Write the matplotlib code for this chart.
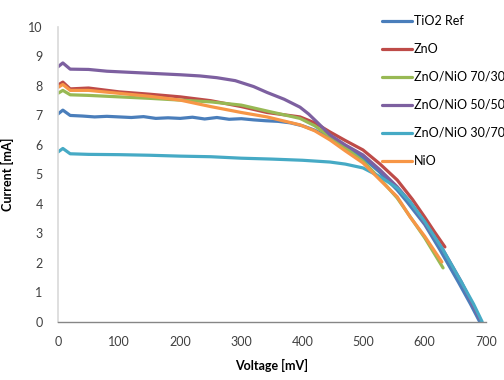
import matplotlib.pyplot as plt

# I-V curves (Voltage in mV, Current in mA)
v_tio2 = [0, 8, 20, 40, 60, 80, 100, 120, 140, 160, 180, 200, 220, 240, 260, 280, 300, 320,
          340, 360, 380, 400, 420, 445, 470, 499, 525, 555, 571, 600, 625, 655, 675, 690]
i_tio2 = [7.05, 7.18, 7.0, 6.98, 6.95, 6.97, 6.95, 6.93, 6.96, 6.9, 6.92, 6.9, 6.94, 6.88, 6.93, 6.87,
          6.89, 6.85, 6.82, 6.8, 6.75, 6.65, 6.5, 6.24, 5.95, 5.56, 5.1, 4.47, 4.07, 3.3, 2.44, 1.35, 0.6, 0.0]

v_zno = [0, 8, 20, 50, 100, 150, 200, 250, 300, 342, 396, 420, 445, 470, 499, 527, 555, 580, 600, 615, 633]
i_zno = [8.03, 8.13, 7.9, 7.93, 7.8, 7.72, 7.63, 7.5, 7.3, 7.1, 6.95, 6.75, 6.44, 6.15, 5.83, 5.35, 4.81, 4.15, 3.55, 3.08, 2.54]

v_7030 = [0, 8, 20, 50, 100, 150, 200, 250, 300, 342, 396, 420, 445, 470, 499, 527, 555, 600, 630]
i_7030 = [7.75, 7.85, 7.7, 7.68, 7.63, 7.58, 7.52, 7.46, 7.35, 7.15, 6.9, 6.65, 6.28, 5.9, 5.45, 4.85, 4.2, 2.85, 1.83]

v_5050 = [0, 8, 20, 50, 80, 100, 130, 150, 200, 232, 260, 290, 320, 342, 370, 396, 410, 425, 445, 470,
          499, 527, 555, 576, 630, 660, 690]
i_5050 = [8.65, 8.78, 8.57, 8.56, 8.5, 8.48, 8.45, 8.43, 8.38, 8.34, 8.28, 8.18, 7.98, 7.78, 7.55, 7.28, 7.05,
          6.75, 6.34, 6.0, 5.66, 5.15, 4.58, 4.07, 2.44, 1.35, 0.1]

v_3070 = [0, 8, 20, 50, 100, 150, 200, 250, 300, 350, 400, 445, 470, 499, 527, 555, 576, 600, 630, 660, 680, 694]
i_3070 = [5.76, 5.88, 5.7, 5.68, 5.67, 5.65, 5.62, 5.6, 5.55, 5.52, 5.48, 5.42, 5.35, 5.22, 4.92, 4.54,
          4.07, 3.4, 2.44, 1.35, 0.6, 0.0]

v_nio = [0, 8, 20, 50, 100, 150, 200, 250, 300, 342, 396, 420, 445, 470, 499, 527, 555, 576, 600, 628]
i_nio = [7.95, 8.05, 7.85, 7.85, 7.75, 7.65, 7.52, 7.3, 7.1, 6.95, 6.68, 6.48, 6.17, 5.8, 5.39, 4.81, 4.24, 3.56, 2.9, 2.03]

series = [
    ("TiO2 Ref", v_tio2, i_tio2, "#4a7ebb"),
    ("ZnO", v_zno, i_zno, "#be4b48"),
    ("ZnO/NiO 70/30", v_7030, i_7030, "#98b954"),
    ("ZnO/NiO 50/50", v_5050, i_5050, "#7d60a0"),
    ("ZnO/NiO 30/70", v_3070, i_3070, "#46aac5"),
    ("NiO", v_nio, i_nio, "#f79646"),
]

plt.rcParams['font.family'] = ['Lato', 'DejaVu Sans']

fig = plt.figure(figsize=(5.04, 3.80), dpi=100)
ax = fig.add_axes([0.115, 0.153, 0.849, 0.776])

for label, v, i, color in series:
    ax.plot(v, i, color=color, lw=2.3, label=label, solid_capstyle='round')

ax.set_xlim(0, 700)
ax.set_ylim(0, 10)
ax.set_xticks(range(0, 701, 100))
ax.set_yticks(range(0, 11))
ax.tick_params(length=0, labelsize=9, colors="#404040", pad=10)
ax.tick_params(axis='y', pad=11)
for side in ("top", "right"):
    ax.spines[side].set_visible(False)
ax.spines["left"].set_color("#d9d9d9")
ax.spines["bottom"].set_color("#868686")
ax.spines["left"].set_linewidth(1.2)
ax.spines["bottom"].set_linewidth(1.0)

ax.set_xlabel("Voltage [mV]", fontsize=9, fontweight="bold", labelpad=8)
ax.set_ylabel("Current [mA]", fontsize=9, fontweight="bold", labelpad=10)

fig.legend(loc="upper left", bbox_to_anchor=(0.748, 0.974), frameon=False,
           fontsize=9, handlelength=2.4, handletextpad=0.15, labelspacing=1.28,
           borderaxespad=0)

fig.savefig("out.png", dpi=100)
